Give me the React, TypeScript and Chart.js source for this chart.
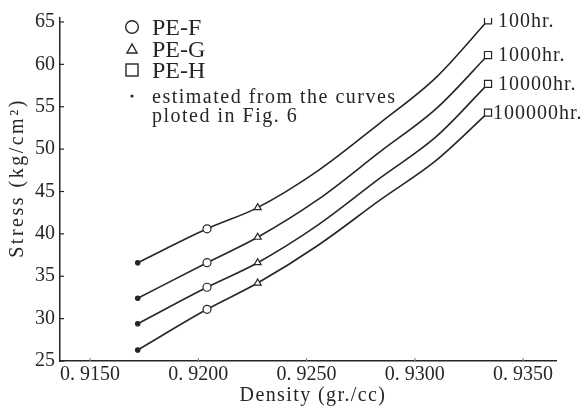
import React, { useEffect, useRef } from "react";
import { Chart, registerables } from "chart.js";

Chart.register(...registerables);

// Density (gr./cc) at which each curve is sampled
const densities = [0.9172, 0.9204, 0.92274, 0.9255, 0.9284, 0.931, 0.93338];

// Stress (kg/cm²)
const stress100hr = [36.6, 40.6, 43.1, 47.4, 53.1, 58.5, 65.2];
const stress1000hr = [32.4, 36.6, 39.6, 44.0, 49.7, 54.8, 61.1];
const stress10000hr = [29.4, 33.7, 36.6, 41.0, 46.6, 51.5, 57.7];
const stress100000hr = [26.3, 31.1, 34.2, 38.6, 44.0, 48.7, 54.3];

const curveNames = ["100hr.", "1000hr.", "10000hr.", "100000hr."];

// which sample carries which marker: estimated dot, PE-F, PE-G, plain curve, PE-H
const sampleKind = ["est", "F", "G", "", "", "", "H"];

const xTicks = [0.915, 0.92, 0.925, 0.93, 0.935];
const xTickLabels = ["0. 9150", "0. 9200", "0. 9250", "0. 9300", "0. 9350"];
const yTicks = [25, 30, 35, 40, 45, 50, 55, 60, 65];

const legendNames = ["PE-F", "PE-G", "PE-H"];
const noteLines = ["estimated from the curves", "ploted in Fig. 6"];

const INK = "#262626";
const SERIF = "'Liberation Serif', 'DejaVu Serif', serif";

const styleFor = (kind: string) => {
  switch (kind) {
    case "est":
      return { style: "circle", radius: 2.2, fill: INK };
    case "F":
      return { style: "circle", radius: 4, fill: "#fff" };
    case "G":
      return { style: "triangle", radius: 4, fill: "#fff" };
    case "H":
      return { style: "rect", radius: 5, fill: "#fff" };
    default:
      return { style: "circle", radius: 0, fill: INK };
  }
};

const labelNudge = [10, 10, 10, 5];

const decorations = {
  id: "decorations",
  afterDraw(chart: any) {
    const { ctx } = chart;
    const xs = chart.scales.x;
    const ys = chart.scales.y;
    const area = chart.chartArea;
    ctx.save();
    ctx.strokeStyle = INK;
    ctx.fillStyle = INK;

    // inward tick marks
    ctx.lineWidth = 1.2;
    yTicks.forEach((v) => {
      const py = ys.getPixelForValue(v);
      ctx.beginPath();
      ctx.moveTo(area.left, py);
      ctx.lineTo(area.left + 4, py);
      ctx.stroke();
    });
    ctx.strokeStyle = "#888";
    xTicks.forEach((v) => {
      const px = xs.getPixelForValue(v);
      ctx.beginPath();
      ctx.moveTo(px, area.bottom);
      ctx.lineTo(px, area.bottom - 3);
      ctx.stroke();
    });
    ctx.strokeStyle = INK;

    // curve names beside the last marker of each curve
    const series = chart.data.datasets;
    ctx.font = `20px ${SERIF}`;
    (ctx as any).letterSpacing = "1px";
    ctx.textAlign = "left";
    ctx.textBaseline = "middle";
    series.forEach((ds: any, i: number) => {
      const last = ds.data[ds.data.length - 1];
      const px = xs.getPixelForValue(last.x);
      const py = ys.getPixelForValue(last.y);
      ctx.fillText(curveNames[i], px + labelNudge[i], py + 1);
    });

    // legend
    const symX = 132;
    ctx.lineWidth = 1.4;
    ctx.beginPath();
    ctx.arc(symX, 27, 6.3, 0, Math.PI * 2);
    ctx.stroke();
    ctx.beginPath();
    ctx.moveTo(symX, 44);
    ctx.lineTo(symX - 5, 53);
    ctx.lineTo(symX + 5, 53);
    ctx.closePath();
    ctx.stroke();
    ctx.strokeRect(symX - 6, 64, 12, 12);
    ctx.beginPath();
    ctx.arc(symX, 96, 1.6, 0, Math.PI * 2);
    ctx.fill();

    ctx.font = `24px ${SERIF}`;
    (ctx as any).letterSpacing = "0px";
    ctx.textBaseline = "alphabetic";
    legendNames.forEach((name, i) => {
      ctx.fillText(name, 152, 35 + i * 21.5);
    });
    ctx.font = `20px ${SERIF}`;
    (ctx as any).letterSpacing = "1.5px";
    noteLines.forEach((line, i) => {
      ctx.fillText(line, 152, 103 + i * 19);
    });

    // axis titles
    ctx.textAlign = "center";
    ctx.textBaseline = "middle";
    (ctx as any).letterSpacing = "1.4px";
    ctx.fillText("Density (gr./cc)", 313, 396);
    ctx.translate(18, 178);
    ctx.rotate(-Math.PI / 2);
    (ctx as any).letterSpacing = "2.5px";
    ctx.fillText("Stress (kg/cm²)", 0, 0);
    ctx.restore();
  },
};

export default function App() {
  const canvasRef = useRef<HTMLCanvasElement | null>(null);

  useEffect(() => {
    if (!canvasRef.current) return;
    const allSeries = [stress100hr, stress1000hr, stress10000hr, stress100000hr];
    const datasets = allSeries.map((values, i) => {
      const kinds = sampleKind.map(styleFor);
      return {
        label: curveNames[i],
        data: values.map((y, j) => ({ x: densities[j], y })),
        borderColor: INK,
        borderWidth: 1.6,
        cubicInterpolationMode: "monotone" as const,
        pointStyle: kinds.map((k) => k.style),
        pointRadius: kinds.map((k) => k.radius),
        pointBackgroundColor: kinds.map((k) => k.fill),
        pointBorderColor: INK,
        pointBorderWidth: 1.2,
        pointHoverRadius: kinds.map((k) => k.radius),
      };
    });

    const chart = new Chart(canvasRef.current, {
      type: "line",
      data: { datasets },
      options: {
        animation: false,
        responsive: false,
        events: [],
        layout: { padding: { left: 0, right: 27, top: 18, bottom: 0 } },
        plugins: {
          legend: { display: false },
          tooltip: { enabled: false },
        },
        scales: {
          x: {
            type: "linear",
            min: 0.91361,
            max: 0.93652,
            grid: { display: false, drawTicks: false },
            border: { display: true, color: INK, width: 1.5 },
            afterBuildTicks: (scale: any) => {
              scale.ticks = xTicks.map((v) => ({ value: v }));
            },
            afterFit: (scale: any) => {
              scale.height = 51;
            },
            ticks: {
              autoSkip: false,
              maxRotation: 0,
              padding: 2,
              color: INK,
              font: { family: SERIF, size: 20 },
              callback: (v: any) => xTickLabels[xTicks.indexOf(Number(v))] ?? "",
            },
          },
          y: {
            type: "linear",
            min: 25,
            max: 65.47,
            grid: { display: false, drawTicks: false },
            border: { display: true, color: INK, width: 1.5 },
            afterBuildTicks: (scale: any) => {
              scale.ticks = yTicks.map((v) => ({ value: v }));
            },
            afterFit: (scale: any) => {
              scale.width = 60;
            },
            ticks: {
              padding: 5,
              color: INK,
              font: { family: SERIF, size: 20 },
            },
          },
        },
      },
      plugins: [decorations],
    });
    return () => chart.destroy();
  }, []);

  return (
    <div style={{ position: "absolute", left: 0, top: 0, width: 583, height: 412, background: "#fff" }}>
      <canvas ref={canvasRef} width={583} height={412} />
    </div>
  );
}
